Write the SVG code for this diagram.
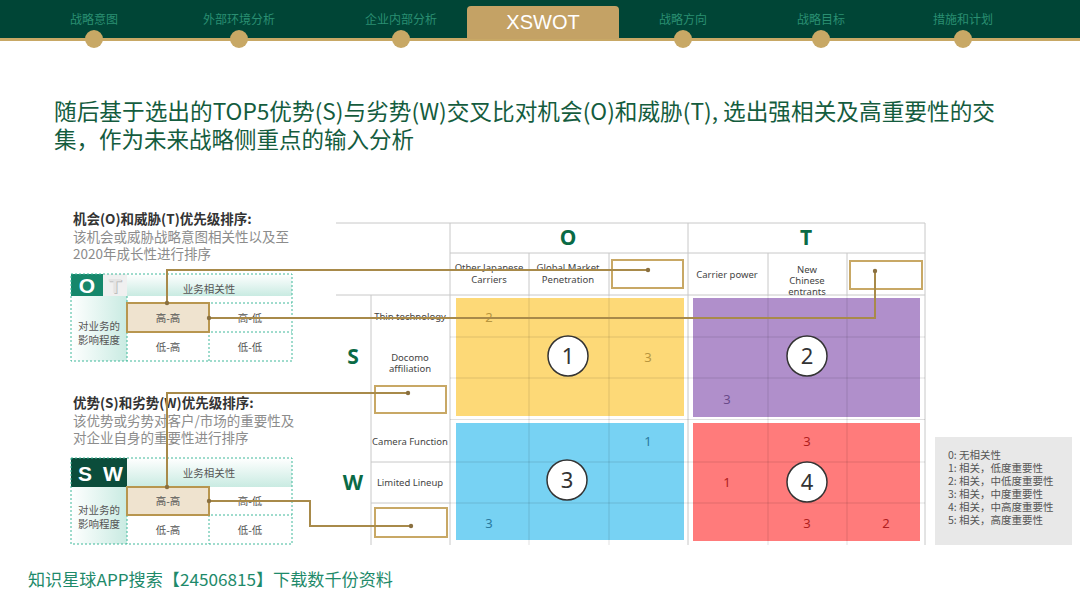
<svg xmlns="http://www.w3.org/2000/svg" width="1080" height="608" viewBox="0 0 1080 608">
<defs>
<linearGradient id="gh" x1="0" y1="0" x2="0" y2="1"><stop offset="0" stop-color="#ffffff"/><stop offset="1" stop-color="#c9ebe2"/></linearGradient>
<linearGradient id="gv" x1="0" y1="0" x2="1" y2="0"><stop offset="0" stop-color="#ffffff"/><stop offset="1" stop-color="#c9ebe2"/></linearGradient>
<style>
.nav{font-family:"Noto Sans CJK SC",sans-serif;font-size:12px;fill:#2a8f72;text-anchor:middle}
.cn{font-family:"Noto Sans CJK SC",sans-serif}
.lat{font-family:"Noto Sans","Noto Sans CJK SC",sans-serif}
.h{font-size:13.5px;font-weight:bold;fill:#333}
.sub{font-size:13.5px;fill:#8c8c8c}
.cell{font-size:10.5px;fill:#555;text-anchor:middle}
.dash{fill:none;stroke:#3fb89a;stroke-width:1;stroke-dasharray:2 2}
.hl{fill:#efe3cf;stroke:#b8964f;stroke-width:2}
.grid{stroke:#c8c8c8;stroke-width:1;fill:none}
.ig{stroke:#000;stroke-opacity:0.12;stroke-width:1;fill:none}
.lab{font-size:9.5px;fill:#444;text-anchor:middle}
.big{font-size:21px;font-weight:bold;fill:#0a6a45;text-anchor:middle}
.num{font-size:13px;text-anchor:middle}
.circ{fill:#fff;stroke:#333;stroke-width:1.5}
.ctx{font-size:22px;fill:#333;text-anchor:middle}
.box{fill:none;stroke:#c8a865;stroke-width:2}
.con{fill:none;stroke:#a88a4a;stroke-width:2}
.dot{fill:#8a7040}
.leg{font-size:10.5px;fill:#555}
</style>
</defs>
<rect width="1080" height="608" fill="#fff"/>
<g id="nav">
<rect x="0" y="0" width="1080" height="39" fill="#004536"/>
<rect x="0" y="38" width="1080" height="3" fill="#c8a865"/>
<path d="M467 39 V10 Q467 6 471 6 H615 Q619 6 619 10 V39 Z" fill="#c4a265"/>
<text x="543" y="29" font-family="Liberation Sans,sans-serif" font-size="20" fill="#fff" text-anchor="middle">XSWOT</text>
<text class="nav" x="94" y="24">战略意图</text>
<text class="nav" x="239" y="24">外部环境分析</text>
<text class="nav" x="401" y="24">企业内部分析</text>
<text class="nav" x="683" y="24">战略方向</text>
<text class="nav" x="821" y="24">战略目标</text>
<text class="nav" x="963" y="24">措施和计划</text>
<g fill="#c8a865">
<circle cx="94" cy="39" r="9"/><circle cx="239" cy="39" r="9"/><circle cx="401" cy="39" r="9"/>
<circle cx="683" cy="39" r="9"/><circle cx="821" cy="39" r="9"/><circle cx="963" cy="39" r="9"/>
</g>
</g>
<g id="title" class="cn" fill="#145c3e" font-size="22.5">
<text x="54" y="120" textLength="941" lengthAdjust="spacingAndGlyphs">随后基于选出的TOP5优势(S)与劣势(W)交叉比对机会(O)和威胁(T), 选出强相关及高重要性的交</text>
<text x="54" y="148">集，作为未来战略侧重点的输入分析</text>
</g>
<g id="panel-ot" class="cn">
<text class="h" x="73" y="224">机会(O)和威胁(T)优先级排序:</text>
<text class="sub" x="73" y="242">该机会或威胁战略意图相关性以及至</text>
<text class="sub" x="73" y="259">2020年成长性进行排序</text>
<rect x="127" y="274" width="165" height="22" fill="url(#gh)"/>
<rect x="71" y="296" width="56" height="65" fill="url(#gv)"/>
<rect x="71" y="274" width="32" height="22" fill="#16876b"/>
<rect x="103" y="274" width="24" height="22" fill="#f0f0f0"/>
<text x="87" y="293" font-family="Liberation Sans,sans-serif" font-size="21" font-weight="bold" fill="#fff" text-anchor="middle">O</text>
<text x="116" y="294" font-family="Liberation Sans,sans-serif" font-size="21" font-weight="bold" fill="#bdbdbd" text-anchor="middle">T</text>
<text x="115" y="293" font-family="Liberation Sans,sans-serif" font-size="21" font-weight="bold" fill="#e4e4e4" text-anchor="middle">T</text>
<text class="cell" x="209" y="293" font-size="11">业务相关性</text>
<text class="cell" x="99" y="330" font-size="11">对业务的</text>
<text class="cell" x="99" y="344" font-size="11">影响程度</text>
<rect class="dash" x="71" y="274" width="221" height="87"/>
<path class="dash" d="M127 303 H292 M127 332 H292 M209 303 V361 M127 296 V361"/>
<rect class="hl" x="127" y="303" width="82" height="29"/>
<text class="cell" x="168" y="322">高-高</text>
<text class="cell" x="250" y="322">高-低</text>
<text class="cell" x="168" y="351">低-高</text>
<text class="cell" x="250" y="351">低-低</text>
</g>
<g id="panel-sw" class="cn">
<text class="h" x="73" y="408">优势(S)和劣势(W)优先级排序:</text>
<text class="sub" x="73" y="426">该优势或劣势对客户/市场的重要性及</text>
<text class="sub" x="73" y="443">对企业自身的重要性进行排序</text>
<rect x="127" y="458" width="165" height="29" fill="url(#gh)"/>
<rect x="71" y="487" width="56" height="57" fill="url(#gv)"/>
<rect x="71" y="458" width="56" height="29" fill="#0b4d3b"/>
<text x="85" y="481" font-family="Liberation Sans,sans-serif" font-size="21" font-weight="bold" fill="#fff" text-anchor="middle">S</text>
<text x="113" y="481" font-family="Liberation Sans,sans-serif" font-size="21" font-weight="bold" fill="#fff" text-anchor="middle">W</text>
<text class="cell" x="209" y="477" font-size="11">业务相关性</text>
<text class="cell" x="99" y="514" font-size="11">对业务的</text>
<text class="cell" x="99" y="528" font-size="11">影响程度</text>
<rect class="dash" x="71" y="458" width="221" height="86"/>
<path class="dash" d="M127 515 H292 M209 487 V544 M127 487 V544"/>
<rect class="hl" x="127" y="487" width="82" height="28"/>
<text class="cell" x="168" y="505">高-高</text>
<text class="cell" x="250" y="505">高-低</text>
<text class="cell" x="168" y="534">低-高</text>
<text class="cell" x="250" y="534">低-低</text>
</g>
<g id="matrix">
<rect x="456" y="298" width="228" height="118" fill="#fdd977"/>
<rect x="456" y="423" width="228" height="117" fill="#77d2f3"/>
<rect x="693" y="298" width="227" height="119" fill="#b08fcb"/>
<rect x="693" y="423" width="227" height="118" fill="#ff7b7b"/>
<path class="grid" d="M336 223 H925 M450 253 H925 M336 295 H925 M450 223 V545 M688 223 V545 M925 223 V545 M529 253 V295 M609 253 V295 M768 253 V295 M847 253 V295 M371 295 V545 M371 462 H450 M371 503 H450"/>
<path class="ig" d="M450 337 H925 M450 378 H925 M450 419.5 H925 M450 462 H925 M450 503 H925 M529 295 V545 M609 295 V545 M768 295 V545 M847 295 V545"/>
<text class="big lat" x="568" y="245">O</text>
<text class="big lat" x="806" y="245">T</text>
<text class="big lat" x="353" y="364">S</text>
<text class="big lat" x="353" y="490">W</text>
<g class="lat">
<text class="lab" x="489" y="271">Other Japanese</text>
<text class="lab" x="489" y="283">Carriers</text>
<text class="lab" x="568" y="271">Global  Market</text>
<text class="lab" x="568" y="283">Penetration</text>
<text class="lab" x="727" y="278">Carrier power</text>
<text class="lab" x="807" y="273">New</text>
<text class="lab" x="807" y="284">Chinese</text>
<text class="lab" x="807" y="295">entrants</text>
<text class="lab" x="410" y="320">Thin technology</text>
<text class="lab" x="410" y="361">Docomo</text>
<text class="lab" x="410" y="372">affiliation</text>
<text class="lab" x="410" y="445">Camera Function</text>
<text class="lab" x="410" y="486">Limited Lineup</text>
<text class="num" x="489" y="322" fill="#b8963e">2</text>
<text class="num" x="648" y="362" fill="#b8963e">3</text>
<text class="num" x="727" y="404" fill="#6a4a8a">3</text>
<text class="num" x="648" y="446" fill="#2a7aa0">1</text>
<text class="num" x="489" y="528" fill="#2a7aa0">3</text>
<text class="num" x="807" y="446" fill="#b02020">3</text>
<text class="num" x="727" y="487" fill="#b02020">1</text>
<text class="num" x="807" y="528" fill="#b02020">3</text>
<text class="num" x="886" y="528" fill="#b02020">2</text>
</g>
</g>
<g id="badge-1"><circle class="circ" cx="568" cy="356" r="20"/><text class="ctx lat" x="568" y="364">1</text></g>
<g id="badge-2"><circle class="circ" cx="807" cy="356" r="20"/><text class="ctx lat" x="807" y="364">2</text></g>
<g id="badge-3"><circle class="circ" cx="567" cy="480" r="20"/><text class="ctx lat" x="567" y="488">3</text></g>
<g id="badge-4"><circle class="circ" cx="807" cy="482" r="20"/><text class="ctx lat" x="807" y="490">4</text></g>
<g id="slots">
<rect class="box" x="612" y="260" width="71" height="28"/>
<rect class="box" x="850" y="261" width="72" height="28"/>
<rect class="box" x="375" y="386" width="71" height="27"/>
<rect class="box" x="375" y="508" width="72" height="29"/>
</g>
<g id="connectors">
<path class="con" d="M167 303 V270 H648"/>
<path class="con" d="M209 318 H875 V271"/>
<path class="con" d="M167 487 V393 H408"/>
<path class="con" d="M209 501 H310 V526 H411"/>
<circle class="dot" cx="167" cy="303" r="2.2"/><circle class="dot" cx="648" cy="270" r="2.2"/>
<circle class="dot" cx="209" cy="318" r="2.2"/><circle class="dot" cx="875" cy="271" r="2.2"/>
<circle class="dot" cx="167" cy="487" r="2.2"/><circle class="dot" cx="408" cy="393" r="2.2"/>
<circle class="dot" cx="209" cy="501" r="2.2"/><circle class="dot" cx="411" cy="526" r="2.2"/>
</g>
<g id="legend" class="cn">
<rect x="935" y="437" width="137" height="108" fill="#e8e8e8"/>
<text class="leg" x="948" y="459">0: 无相关性</text>
<text class="leg" x="948" y="472">1: 相关，低度重要性</text>
<text class="leg" x="948" y="485">2: 相关，中低度重要性</text>
<text class="leg" x="948" y="498">3: 相关，中度重要性</text>
<text class="leg" x="948" y="511">4: 相关，中高度重要性</text>
<text class="leg" x="948" y="524">5: 相关，高度重要性</text>
</g>
<text class="cn" x="28" y="586" font-size="16.5" fill="#1e8a6a" textLength="365" lengthAdjust="spacingAndGlyphs">知识星球APP搜索【24506815】下载数千份资料</text>
</svg>
